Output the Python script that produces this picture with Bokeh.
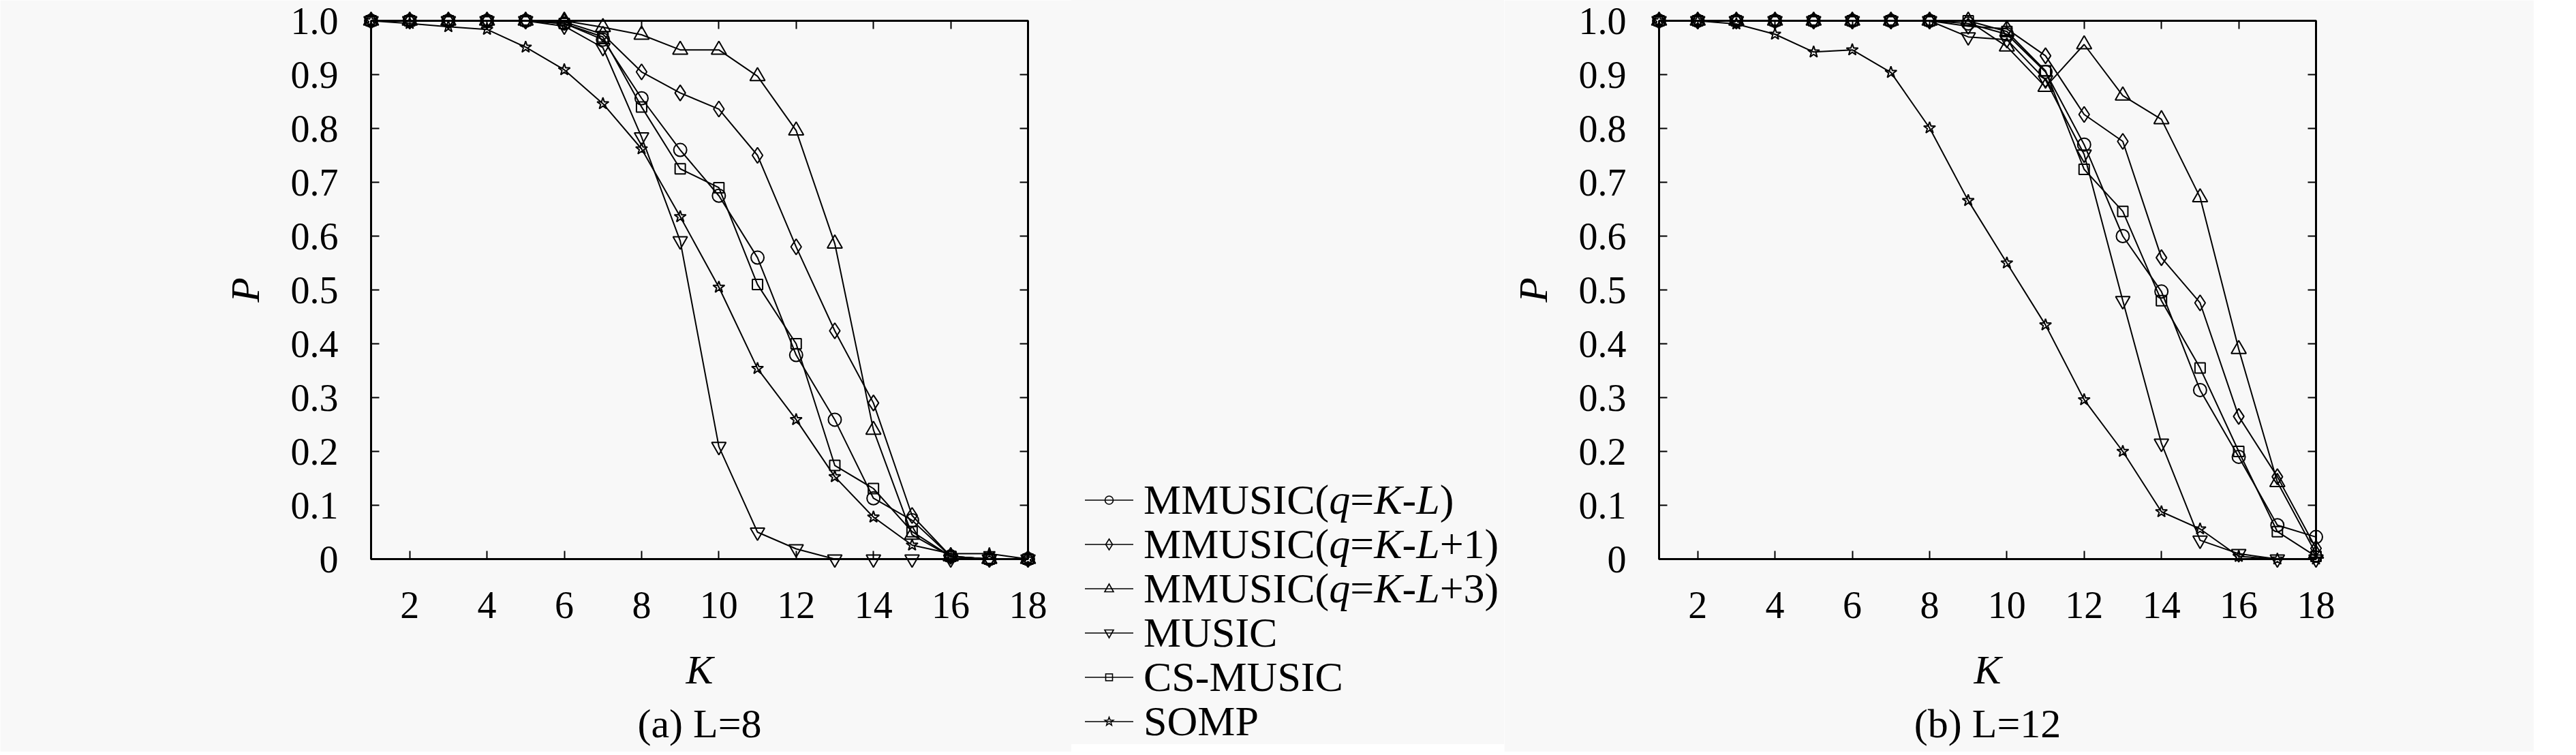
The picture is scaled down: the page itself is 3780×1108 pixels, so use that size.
import math
from bokeh.plotting import figure
from bokeh.models import LinearAxis, FixedTicker, Range1d, Title, Div
from bokeh.layouts import row
from bokeh.embed import file_html
from bokeh.resources import INLINE

# ---------------- data ----------------
K = list(range(1, 19))

SERIES_LABELS = ["MMUSIC(q=K-L)", "MMUSIC(q=K-L+1)", "MMUSIC(q=K-L+3)",
                 "MUSIC", "CS-MUSIC", "SOMP"]
SERIES_MARKERS = ["circle", "diamond", "triangle", "inverted_triangle", "square", "star"]

# (a) L = 8
L8_MMUSIC_Q0 = [1.0, 1.0, 1.0, 1.0, 1.0, 0.995, 0.965, 0.856, 0.760, 0.675, 0.560, 0.379,
                0.259, 0.113, 0.072, 0.005, 0.0, 0.0]
L8_MMUSIC_Q1 = [1.0, 1.0, 1.0, 1.0, 1.0, 0.998, 0.975, 0.905, 0.866, 0.836, 0.750, 0.580,
                0.424, 0.290, 0.081, 0.005, 0.0, 0.0]
L8_MMUSIC_Q3 = [1.0, 1.0, 1.0, 1.0, 1.0, 1.0, 0.988, 0.974, 0.946, 0.946, 0.897, 0.796,
                0.586, 0.240, 0.045, 0.005, 0.0, 0.0]
L8_MUSIC = [1.0, 1.0, 1.0, 1.0, 1.0, 0.990, 0.950, 0.784, 0.591, 0.209, 0.050, 0.019,
            0.0, 0.0, 0.0, 0.0, 0.0, 0.0]
L8_CS_MUSIC = [1.0, 1.0, 1.0, 1.0, 1.0, 0.995, 0.970, 0.840, 0.725, 0.690, 0.510, 0.400,
               0.174, 0.131, 0.051, 0.005, 0.0, 0.0]
L8_SOMP = [1.0, 0.995, 0.989, 0.984, 0.951, 0.909, 0.846, 0.762, 0.636, 0.505, 0.354, 0.259,
           0.153, 0.078, 0.026, 0.010, 0.010, 0.0]

# (b) L = 12
L12_MMUSIC_Q0 = [1.0, 1.0, 1.0, 1.0, 1.0, 1.0, 1.0, 1.0, 0.995, 0.975, 0.905, 0.770,
                 0.600, 0.497, 0.314, 0.190, 0.063, 0.041]
L12_MMUSIC_Q1 = [1.0, 1.0, 1.0, 1.0, 1.0, 1.0, 1.0, 1.0, 0.990, 0.985, 0.935, 0.826,
                 0.776, 0.560, 0.476, 0.265, 0.153, 0.020]
L12_MMUSIC_Q3 = [1.0, 1.0, 1.0, 1.0, 1.0, 1.0, 1.0, 1.0, 1.0, 0.952, 0.877, 0.956,
                 0.861, 0.817, 0.672, 0.390, 0.143, 0.010]
L12_MUSIC = [1.0, 1.0, 1.0, 1.0, 1.0, 1.0, 1.0, 1.0, 0.970, 0.965, 0.890, 0.752,
             0.480, 0.215, 0.035, 0.010, 0.0, 0.0]
L12_CS_MUSIC = [1.0, 1.0, 1.0, 1.0, 1.0, 1.0, 1.0, 1.0, 1.0, 0.980, 0.907, 0.724,
                0.646, 0.480, 0.355, 0.200, 0.051, 0.005]
L12_SOMP = [1.0, 1.0, 0.994, 0.975, 0.942, 0.946, 0.904, 0.801, 0.666, 0.550, 0.435, 0.296,
            0.200, 0.088, 0.056, 0.005, 0.0, 0.0]

X_TICKS = [2, 4, 6, 8, 10, 12, 14, 16, 18]
Y_TICKS = [0.0, 0.1, 0.2, 0.3, 0.4, 0.5, 0.6, 0.7, 0.8, 0.9, 1.0]
Y_TICK_LABELS = ["0", "0.1", "0.2", "0.3", "0.4", "0.5", "0.6", "0.7", "0.8", "0.9", "1.0"]

CAPTION_A = "(a) L=8"
CAPTION_B = "(b) L=12"

# ---------------- style ----------------
FONT = "Liberation Serif"
BG = "#f8f8f8"
MARKER_SIZES = {"circle": 19, "diamond": 23, "triangle": 22, "inverted_triangle": 21,
                "square": 15, "star": 18}
FRAME_W = 964
FRAME_H = 790
TOP = 30
FIG_H = 1092
BOTTOM = FIG_H - TOP - FRAME_H


def mirror_axis(ticks):
    return LinearAxis(ticker=FixedTicker(ticks=ticks), major_label_text_font_size="1px",
                      major_label_text_color=None, major_tick_in=12, major_tick_out=0,
                      major_tick_line_width=2, minor_tick_line_color=None,
                      axis_line_color=None, major_label_standoff=0)


def make_panel(series, caption, border_left, border_right):
    p = figure(output_backend="svg", toolbar_location=None,
               frame_width=FRAME_W, frame_height=FRAME_H,
               min_border_left=border_left, min_border_right=border_right,
               min_border_top=TOP, min_border_bottom=BOTTOM,
               x_range=Range1d(1, 18), y_range=Range1d(0, 1),
               background_fill_color=BG, border_fill_color=BG)
    p.grid.visible = False
    p.outline_line_color = "black"
    p.outline_line_width = 3

    for ax in (p.xaxis[0], p.yaxis[0]):
        ax.axis_line_width = 3
        ax.major_tick_in = 12
        ax.major_tick_out = 0
        ax.major_tick_line_width = 2
        ax.minor_tick_line_color = None
        ax.major_label_text_font = FONT
        ax.major_label_text_font_size = "56px"
        ax.major_label_text_color = "black"
        ax.axis_label_text_font = FONT
        ax.axis_label_text_font_size = "60px"
        ax.axis_label_text_font_style = "italic"
        ax.axis_label_text_color = "black"

    p.xaxis.ticker = FixedTicker(ticks=X_TICKS)
    p.xaxis.major_label_standoff = 48
    p.xaxis.axis_label = "K"
    p.xaxis.axis_label_standoff = 40

    p.yaxis.ticker = FixedTicker(ticks=Y_TICKS)
    p.yaxis.major_label_overrides = {t: s for t, s in zip(Y_TICKS, Y_TICK_LABELS)}
    p.yaxis.major_label_standoff = 48
    p.yaxis.axis_label = "P"
    p.yaxis.axis_label_standoff = 31

    p.add_layout(mirror_axis(X_TICKS), "above")
    p.add_layout(mirror_axis(Y_TICKS), "right")

    for marker, vals in zip(SERIES_MARKERS, series):
        p.line(K, vals, line_color="black", line_width=2)
        p.scatter(K, vals, marker=marker, size=MARKER_SIZES[marker], level="overlay",
                  line_color="black", line_width=2, fill_color=None)

    p.add_layout(Title(text=caption, align="center", text_font=FONT,
                       text_font_size="60px", text_font_style="normal",
                       text_color="black", standoff=17), "below")
    return p


pa = make_panel([L8_MMUSIC_Q0, L8_MMUSIC_Q1, L8_MMUSIC_Q3, L8_MUSIC, L8_CS_MUSIC, L8_SOMP],
                CAPTION_A, 544, 64)
pb = make_panel([L12_MMUSIC_Q0, L12_MMUSIC_Q1, L12_MMUSIC_Q3, L12_MUSIC, L12_CS_MUSIC, L12_SOMP],
                CAPTION_B, 227, 320)

# ---------------- legend (HTML block between the two plots) ----------------
LEG_W = 635
GW, GH = 71, 30          # legend sample box
CXL, CYL = GW / 2.0, GH / 2.0


def legend_symbol(marker):
    stroke = 'fill="none" stroke="black" stroke-width="1.6"'
    if marker == "circle":
        shape = f'<circle cx="{CXL}" cy="{CYL}" r="6" {stroke}/>'
    elif marker == "square":
        shape = f'<rect x="{CXL - 5}" y="{CYL - 5}" width="10" height="10" {stroke}/>'
    else:
        if marker == "diamond":
            pts = [(0, -8), (5, 0), (0, 8), (-5, 0)]
        elif marker == "triangle":
            pts = [(0, -7), (6.5, 4.5), (-6.5, 4.5)]
        elif marker == "inverted_triangle":
            pts = [(0, 7), (6.5, -4.5), (-6.5, -4.5)]
        else:  # star
            pts = []
            for i in range(10):
                r = 6.5 if i % 2 == 0 else 2.7
                a = -math.pi / 2 + i * math.pi / 5
                pts.append((r * math.cos(a), r * math.sin(a)))
        ptxt = " ".join(f"{CXL + dx:.1f},{CYL + dy:.1f}" for dx, dy in pts)
        shape = f'<polygon points="{ptxt}" {stroke}/>'
    return (f'<svg width="{GW}" height="{GH}" style="flex:none">'
            f'<line x1="0" y1="{CYL}" x2="{GW}" y2="{CYL}" stroke="black" stroke-width="1.6"/>'
            f'{shape}</svg>')


def legend_label_html(label):
    if "(" not in label:
        return label
    head, rest = label.split("(", 1)
    inner = "".join(f"<i>{c}</i>" if c in "qKL" else c for c in rest)
    return f"{head}({inner}"


rows_html = "".join(
    f'<div style="display:flex;align-items:center;height:65px;white-space:nowrap;">'
    f'{legend_symbol(m)}<span style="margin-left:15px;line-height:65px;">'
    f'{legend_label_html(lbl)}</span></div>'
    for lbl, m in zip(SERIES_LABELS, SERIES_MARKERS))

legend_html = (f'<div style="position:relative;width:{LEG_W}px;height:{FIG_H}px;'
               f'background:{BG};font-family:\'{FONT}\';font-size:62px;color:black;">'
               f'<div style="position:absolute;left:20px;top:701px;">{rows_html}</div></div>')

leg = Div(text=legend_html, width=LEG_W, height=FIG_H, margin=0,
          styles={"background-color": BG, "padding": "0px"})

layout = row(pa, leg, pb)
open("out.html", "w").write(file_html(layout, INLINE))
